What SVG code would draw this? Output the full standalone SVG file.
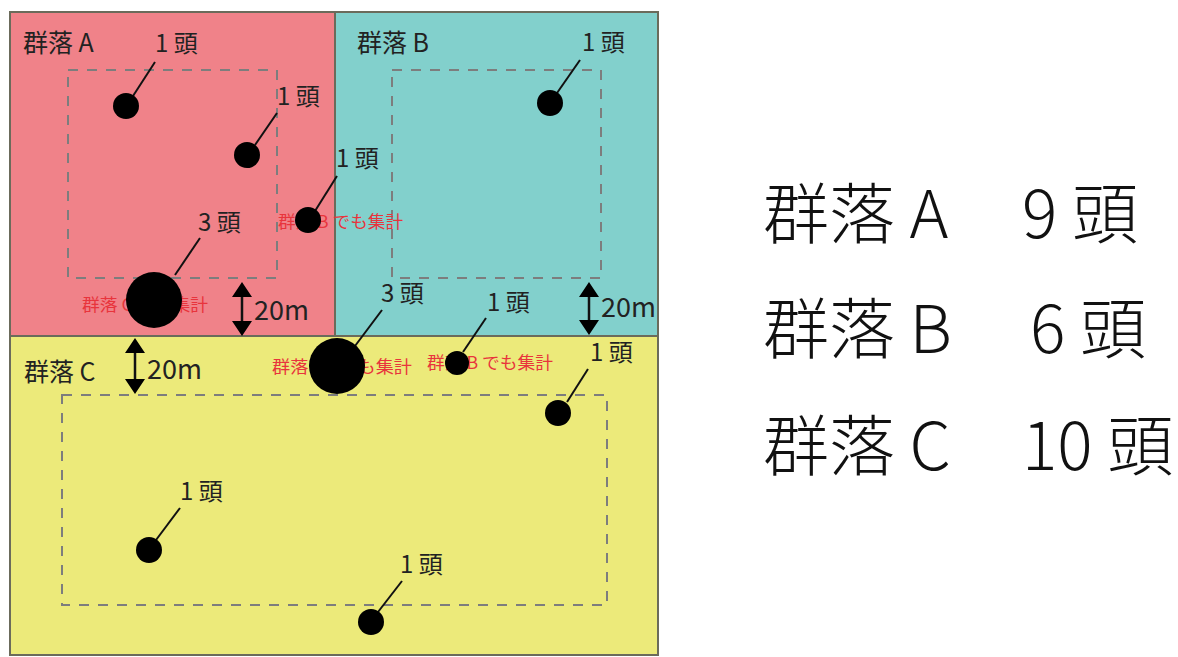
<svg xmlns="http://www.w3.org/2000/svg" width="1178" height="657" viewBox="0 0 1178 657">
<defs>
<style>
.t{font-family:"Noto Sans CJK JP","Noto Sans",sans-serif;fill:#222}
.lbl{font-size:24px}
.ttl{font-size:25px}
.m{font-size:27px}
.red{font-family:"Noto Sans CJK JP",sans-serif;font-size:17px;fill:#e8343c}
.big{font-family:"Noto Sans CJK JP","Noto Sans",sans-serif;font-size:66px;font-weight:300;fill:#111}
.dash{fill:none;stroke:#7d7d7d;stroke-width:2;stroke-dasharray:10 9}
.reg{stroke:#6b6b5b;stroke-width:2}
.dot{fill:#000}
.lead{stroke:#111;stroke-width:2}
.arr{stroke:#111;stroke-width:2.5}
.head{fill:#000}
</style>
</defs>
<rect width="1178" height="657" fill="#fff"/>
<g id="regions">
<rect id="regionA" class="reg" x="10" y="12" width="325" height="324" fill="#f08289"/>
<rect id="regionB" class="reg" x="335" y="12" width="323" height="324" fill="#82d0cc"/>
<rect id="regionC" class="reg" x="10" y="336" width="648" height="319" fill="#ecea7a"/>
</g>
<g id="areas">
<rect class="dash" x="68" y="70" width="209" height="208"/>
<rect class="dash" x="392" y="70" width="209" height="208"/>
<rect class="dash" x="62" y="395" width="545" height="210"/>
</g>
<g id="titles">
<text class="t ttl" x="23" y="52">群落 A</text>
<text class="t ttl" x="357" y="52">群落 B</text>
<text class="t ttl" x="24" y="381">群落 C</text>
</g>
<g id="notes">
<text class="red" x="278" y="228" textLength="125" lengthAdjust="spacingAndGlyphs">群落 B でも集計</text>
<text class="red" x="82" y="311" textLength="126" lengthAdjust="spacingAndGlyphs">群落 C でも集計</text>
<text class="red" x="272" y="373" textLength="140" lengthAdjust="spacingAndGlyphs">群落 AB でも集計</text>
<text class="red" x="427" y="369" textLength="126" lengthAdjust="spacingAndGlyphs">群落 B でも集計</text>
</g>
<g id="connectors">
<line class="lead" x1="133" y1="96" x2="155" y2="62"/>
<line class="lead" x1="255" y1="145" x2="277" y2="113"/>
<line class="lead" x1="315" y1="211" x2="337" y2="176"/>
<line class="lead" x1="175" y1="275" x2="200" y2="238"/>
<line class="lead" x1="557" y1="93" x2="580" y2="60"/>
<line class="lead" x1="355" y1="346" x2="382" y2="310"/>
<line class="lead" x1="463" y1="352" x2="486" y2="318"/>
<line class="lead" x1="567" y1="402" x2="588" y2="369"/>
<line class="lead" x1="156" y1="540" x2="180" y2="508"/>
<line class="lead" x1="378" y1="612" x2="402" y2="581"/>
</g>
<g id="a1"><circle class="dot" cx="126" cy="106" r="13"/><text class="t lbl" x="155" y="52">1 頭</text></g>
<g id="a2"><circle class="dot" cx="247" cy="155" r="13"/><text class="t lbl" x="277" y="105">1 頭</text></g>
<g id="ab1"><circle class="dot" cx="308" cy="220" r="13"/><text class="t lbl" x="336" y="167">1 頭</text></g>
<g id="ac3"><circle class="dot" cx="154" cy="300" r="28"/><text class="t lbl" x="198" y="231">3 頭</text></g>
<g id="b1"><circle class="dot" cx="550" cy="103" r="13"/><text class="t lbl" x="582" y="51">1 頭</text></g>
<g id="abc3"><circle class="dot" cx="337" cy="366" r="28"/><text class="t lbl" x="381" y="302">3 頭</text></g>
<g id="bc1"><circle class="dot" cx="457" cy="363" r="12"/><text class="t lbl" x="487" y="311">1 頭</text></g>
<g id="c1"><circle class="dot" cx="558" cy="413" r="13"/><text class="t lbl" x="590" y="361">1 頭</text></g>
<g id="c2"><circle class="dot" cx="149" cy="550" r="13"/><text class="t lbl" x="180" y="500">1 頭</text></g>
<g id="c3"><circle class="dot" cx="371" cy="622" r="13"/><text class="t lbl" x="400" y="573">1 頭</text></g>
<g id="dims">
<g id="dimA">
<line class="arr" x1="242" y1="294" x2="242" y2="324"/>
<path class="head" d="M242,282 L252,297 L232,297 Z M242,336 L252,321 L232,321 Z"/>
<text class="t m" x="254" y="320">20m</text>
</g>
<g id="dimB">
<line class="arr" x1="589" y1="294" x2="589" y2="323"/>
<path class="head" d="M589,282 L599,297 L579,297 Z M589,335 L599,320 L579,320 Z"/>
<text class="t m" x="601" y="317">20m</text>
</g>
<g id="dimC">
<line class="arr" x1="135" y1="350" x2="135" y2="382"/>
<path class="head" d="M135,338 L145,353 L125,353 Z M135,394 L145,379 L125,379 Z"/>
<text class="t m" x="147" y="379">20m</text>
</g>
</g>
<g id="legend">
<text class="big" x="763" y="238">群落 A</text>
<text class="big" x="1022" y="238">9 頭</text>
<text class="big" x="763" y="353">群落 B</text>
<text class="big" x="1030" y="353">6 頭</text>
<text class="big" x="763" y="470">群落 C</text>
<text class="big" x="1022" y="470">10 頭</text>
</g>
</svg>
